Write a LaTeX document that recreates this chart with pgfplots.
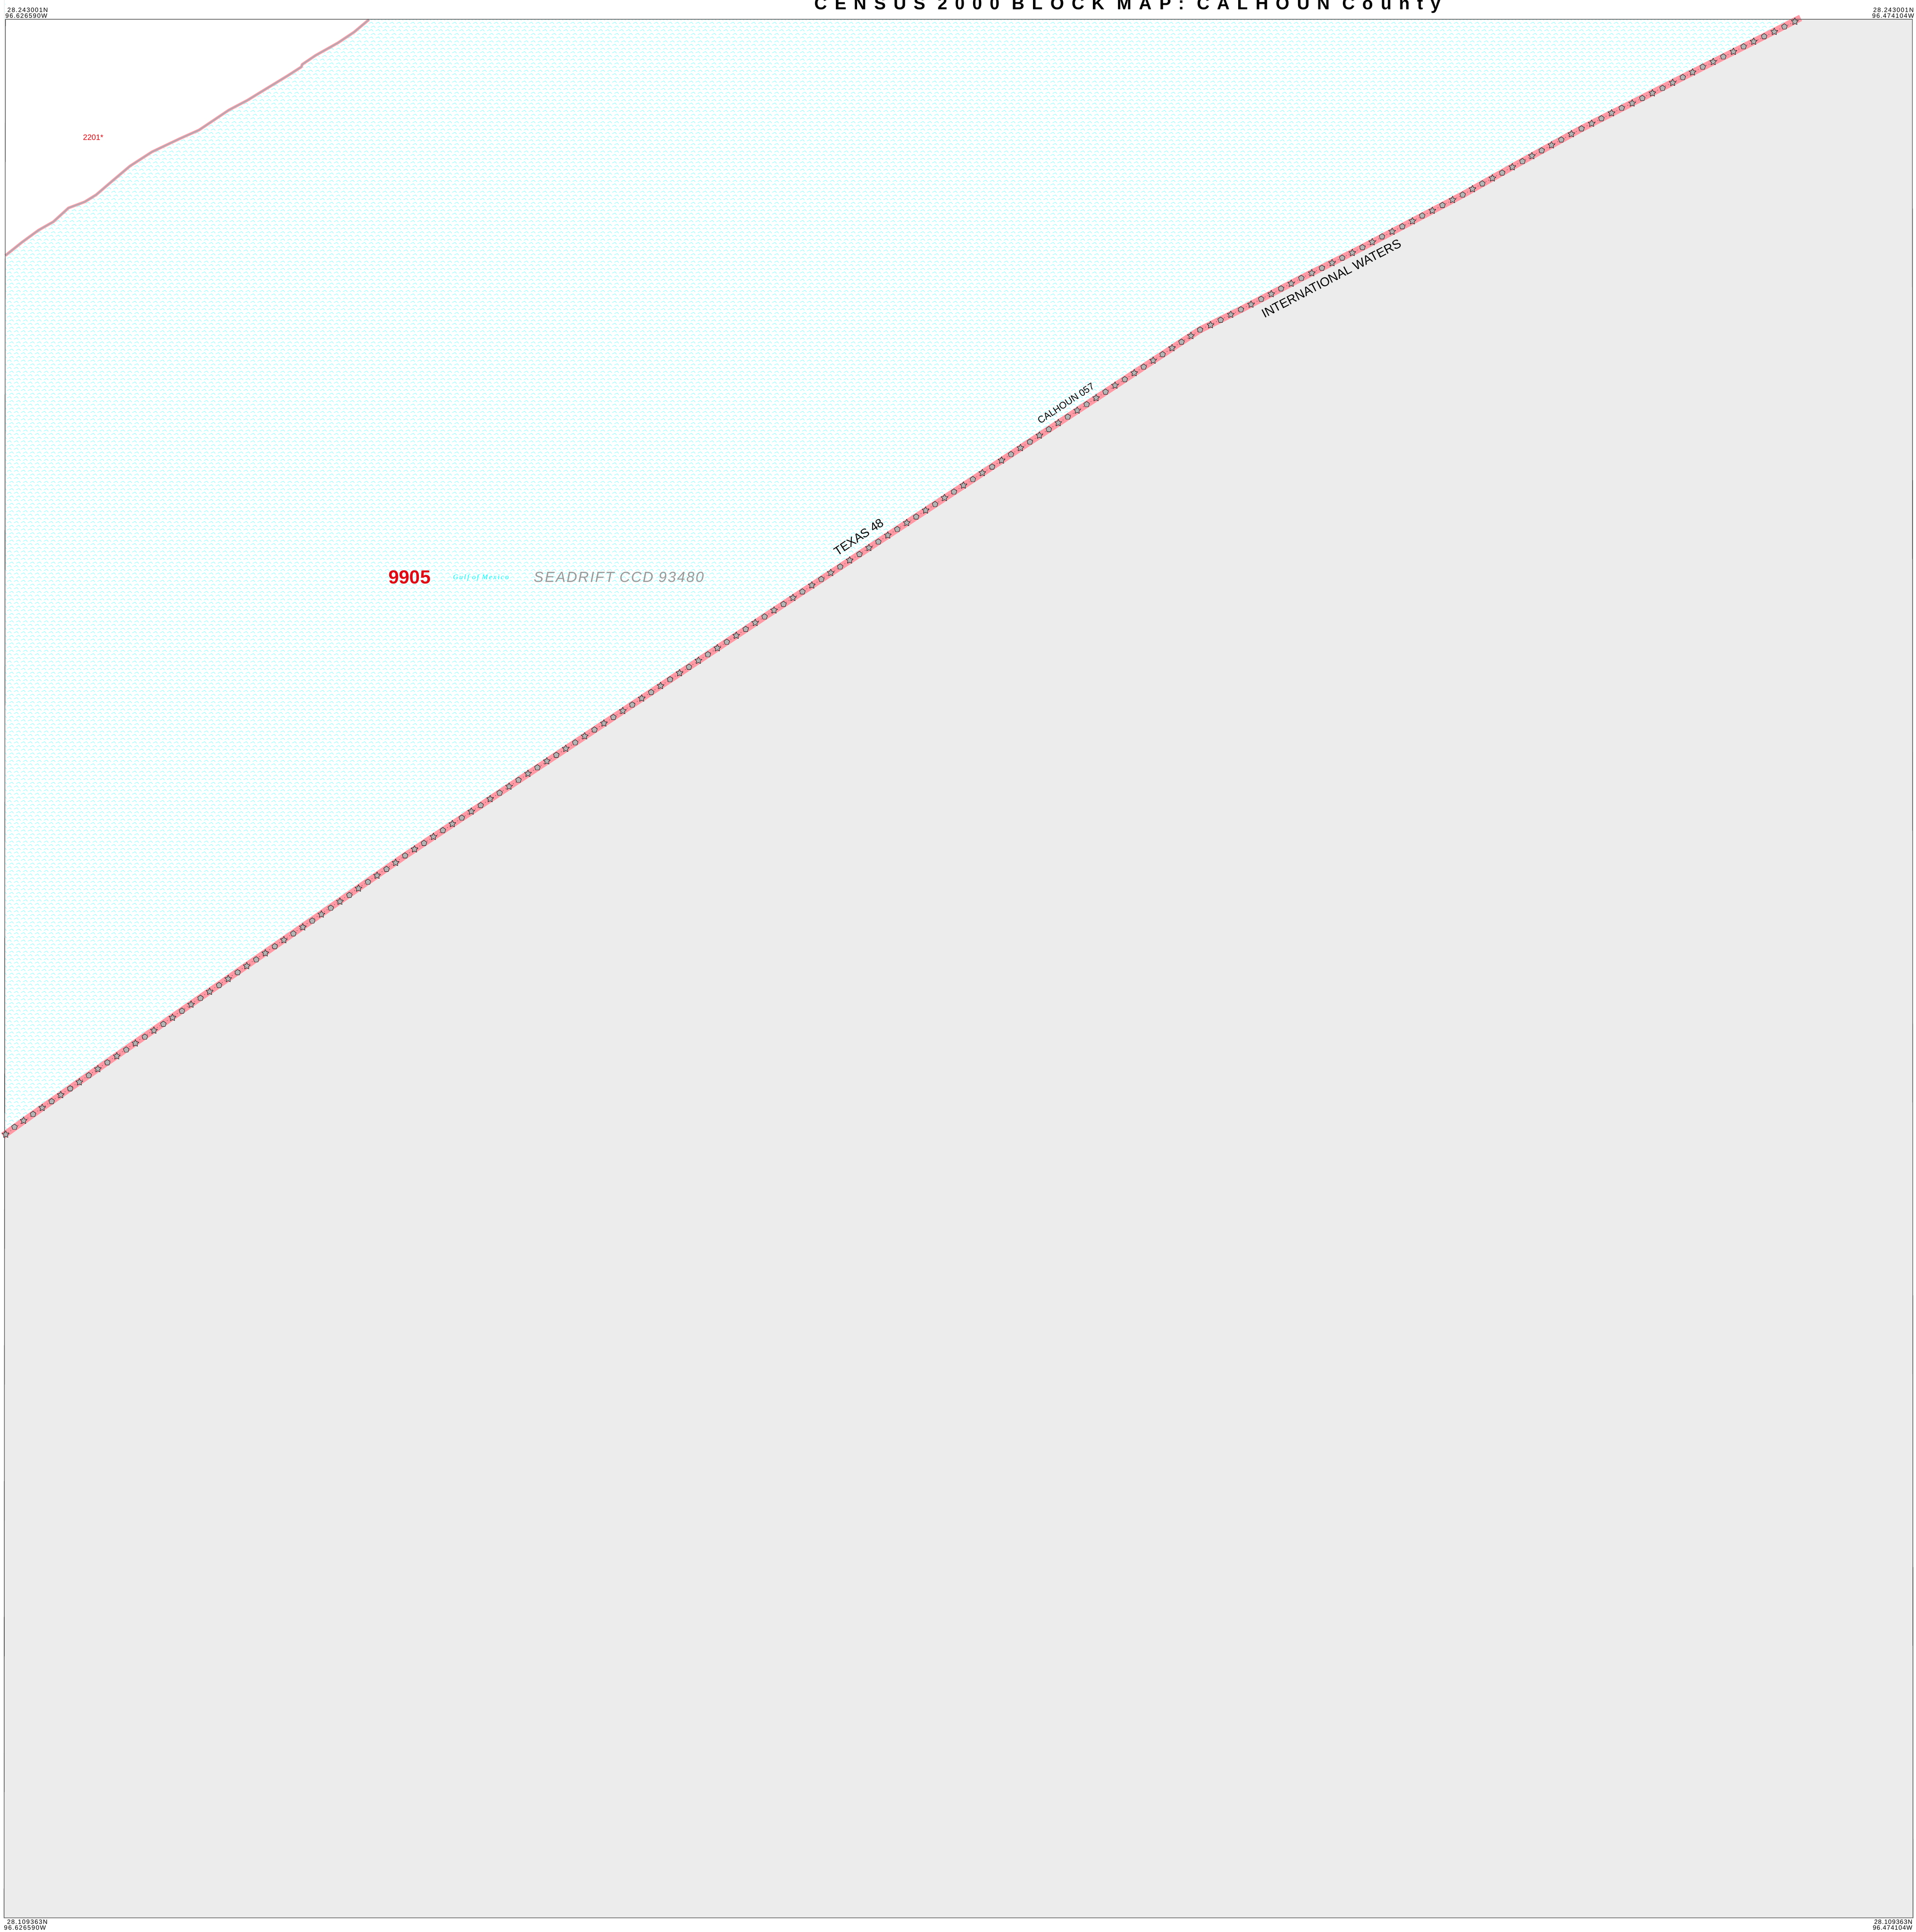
\documentclass[border=0pt]{standalone}
\usepackage{fontspec}
\usepackage{pgfplots}
\pgfplotsset{compat=1.18}
\usetikzlibrary{patterns,plotmarks}
\setmainfont{Liberation Sans}
\newfontfamily\serifface{Liberation Serif}
\definecolor{landgray}{HTML}{ECECEC}
\definecolor{bandpink}{HTML}{FF9AA5}
\definecolor{coastcore}{HTML}{9DB0B8}
\definecolor{markgray}{HTML}{B4B4B4}
\definecolor{redlabel}{HTML}{DF0A14}
\definecolor{framegray}{HTML}{4A4A4A}
\definecolor{ccdgray}{HTML}{999999}
\definecolor{wavecyan}{HTML}{88FFFF}
\definecolor{gulfcyan}{HTML}{00FFFF}
\pgfdeclarepatternformonly{gulfwave}{\pgfqpoint{0pt}{0pt}}{\pgfqpoint{5.25pt}{5.333pt}}{\pgfqpoint{5.25pt}{5.333pt}}{%
  \pgfsetlinewidth{0.3pt}%
  \pgfpathmoveto{\pgfqpoint{1.75pt}{3.3pt}}%
  \pgfpathlineto{\pgfqpoint{3.92pt}{4.3pt}}%
  \pgfpathlineto{\pgfqpoint{5.08pt}{3.05pt}}%
  \pgfpathmoveto{\pgfqpoint{0.08pt}{0.63pt}}%
  \pgfpathlineto{\pgfqpoint{2.25pt}{1.63pt}}%
  \pgfpathlineto{\pgfqpoint{3.41pt}{0.38pt}}%
  \pgfusepath{stroke}%
}
\pgfdeclareplotmark{fstar}{%
  \pgfpathmoveto{\pgfqpointpolar{90}{\pgfplotmarksize}}%
  \pgfpathlineto{\pgfqpointpolar{126}{0.5\pgfplotmarksize}}%
  \pgfpathlineto{\pgfqpointpolar{162}{\pgfplotmarksize}}%
  \pgfpathlineto{\pgfqpointpolar{198}{0.5\pgfplotmarksize}}%
  \pgfpathlineto{\pgfqpointpolar{234}{\pgfplotmarksize}}%
  \pgfpathlineto{\pgfqpointpolar{270}{0.5\pgfplotmarksize}}%
  \pgfpathlineto{\pgfqpointpolar{306}{\pgfplotmarksize}}%
  \pgfpathlineto{\pgfqpointpolar{342}{0.5\pgfplotmarksize}}%
  \pgfpathlineto{\pgfqpointpolar{18}{\pgfplotmarksize}}%
  \pgfpathlineto{\pgfqpointpolar{54}{0.5\pgfplotmarksize}}%
  \pgfpathclose
  \pgfusepathqfillstroke
}
\pgfplotstableread{
x y
43 3339
98 3301
153 3263
208 3225
263 3186
318 3148
374 3110
429 3072
484 3034
539 2995
594 2957
649 2919
704 2881
759 2843
814 2804
869 2766
925 2728
980 2690
1035 2652
1090 2613
1145 2575
1200 2535
1256 2498
1312 2460
1368 2423
1424 2386
1480 2349
1536 2311
1592 2274
1648 2237
1704 2200
1761 2162
1817 2125
1873 2088
1929 2051
1985 2013
2041 1976
2097 1939
2153 1902
2209 1864
2265 1827
2321 1790
2377 1753
2433 1716
2489 1679
2546 1642
2602 1605
2658 1568
2714 1531
2770 1494
2826 1457
2882 1420
2939 1383
2995 1346
3051 1309
3107 1272
3163 1235
3219 1198
3275 1161
3332 1124
3388 1087
3444 1050
3500 1013
3555 977
3616 948
3676 917
3736 886
3795 855
3855 824
3916 794
3976 764
4036 733
4094 701
4154 671
4213 639
4273 608
4333 577
4391 544
4450 512
4510 478
4567 446
4625 414
4685 381
4744 351
4804 320
4865 291
4925 261
4985 229
5044 198
5105 168
5165 138
5226 108
5286 79
}\pentagons
\pgfplotstableread{
x y
17 3361
70 3320
125 3282
180 3244
235 3206
290 3167
346 3129
401 3091
456 3053
511 3015
566 2976
621 2938
676 2900
731 2862
786 2824
841 2785
897 2747
952 2709
1007 2671
1062 2632
1117 2594
1172 2556
1228 2516
1284 2479
1340 2441
1396 2404
1452 2367
1508 2330
1564 2292
1620 2255
1676 2218
1732 2181
1789 2143
1845 2106
1901 2069
1957 2032
2013 1994
2069 1957
2125 1920
2181 1883
2237 1845
2293 1808
2349 1771
2405 1734
2461 1697
2517 1660
2574 1623
2630 1586
2686 1549
2742 1512
2798 1475
2854 1438
2910 1401
2967 1364
3023 1327
3079 1290
3135 1253
3191 1216
3247 1179
3303 1142
3360 1105
3416 1068
3472 1031
3528 995
3586 963
3646 932
3706 902
3766 871
3825 840
3886 809
3946 779
4006 749
4065 717
4124 686
4184 655
4243 624
4303 592
4362 560
4421 528
4480 495
4538 462
4596 430
4655 397
4715 366
4774 335
4835 306
4895 276
4955 245
5014 214
5075 183
5135 153
5195 123
5256 94
5317 64
}\stars
\begin{document}
\begin{tikzpicture}
\path[use as bounding box] (0,0) rectangle (1418.75pt,-1431pt);
\begin{axis}[
  at={(0,0)}, anchor=north west,
  x=0.25pt, y=0.25pt, y dir=reverse,
  xmin=0, xmax=5675, ymin=0, ymax=5724,
  hide axis, clip=false,
  /tikz/every node/.append style={inner sep=0pt, outer sep=0pt},
]
% land outside the county (gray)
\addplot[draw=none, fill=landgray] coordinates {
 (14,3361) (98,3301) (306,3155) (1200,2535) (2321,1790) (3500,1013) (3555,977)
 (3676,917) (3855,824) (4036,733) (4333,577) (4509,478) (4685,381) (4985,229)
 (5166,138) (5317,64) (5337,57) (5665,57) (5667,5682) (12,5682)} \closedcycle;
% gulf water
\addplot[draw=none, pattern=gulfwave, pattern color=wavecyan] coordinates {
 (16,757) (66,717) (114,682) (158,657) (203,616) (251,598) (285,577) (334,535)
 (385,492) (450,450) (532,411) (590,385) (678,326) (733,297) (777,270) (851,225)
 (893,198) (895,191) (935,164) (1001,127) (1049,95) (1097,57) (5337,57)
 (5317,64) (5166,138) (4985,229) (4685,381) (4509,478) (4333,577) (4036,733)
 (3855,824) (3676,917) (3555,977) (3500,1013) (2321,1790) (1200,2535) (306,3155)
 (98,3301) (15,3361)} \closedcycle;
% shoreline
\addplot[draw=bandpink, line width=2pt, line join=round] coordinates {
 (16,757) (66,717) (114,682) (158,657) (203,616) (251,598) (285,577) (334,535)
 (385,492) (450,450) (532,411) (590,385) (678,326) (733,297) (777,270) (851,225)
 (893,198) (895,191) (935,164) (1001,127) (1049,95) (1093,58)};
\addplot[draw=coastcore, line width=0.7pt, line join=round] coordinates {
 (16,757) (66,717) (114,682) (158,657) (203,616) (251,598) (285,577) (334,535)
 (385,492) (450,450) (532,411) (590,385) (678,326) (733,297) (777,270) (851,225)
 (893,198) (895,191) (935,164) (1001,127) (1049,95) (1093,58)};
% county boundary
\addplot[draw=bandpink, line width=5pt, line join=round] coordinates {
 (9,3365) (98,3301) (306,3155) (1200,2535) (2321,1790) (3500,1013) (3555,977)
 (3676,917) (3855,824) (4036,733) (4333,577) (4509,478) (4685,381) (4985,229)
 (5166,138) (5334,53)};
\addplot[draw=black, line width=0.25pt, dash pattern=on 0.35pt off 1.9pt] coordinates {
 (17,3361) (98,3301) (306,3155) (1200,2535) (2321,1790) (3500,1013) (3555,977)
 (3676,917) (3855,824) (4036,733) (4333,577) (4509,478) (4685,381) (4985,229)
 (5166,138) (5317,64)};
\addplot[only marks, mark=pentagon*, mark size=2.2pt,
  mark options={fill=markgray, draw=black, line width=0.24pt}] table[x=x,y=y] {\pentagons};
\addplot[only marks, mark=fstar, mark size=2.7pt,
  mark options={fill=markgray, draw=black, line width=0.24pt}] table[x=x,y=y] {\stars};
% frame
\addplot[draw=framegray, line width=0.45pt] coordinates {
 (16,57) (5665,57) (5667,5682) (12,5682) (16,57)};
% labels
\node[anchor=base west, font=\fontsize{13pt}{13pt}\bfseries\addfontfeature{LetterSpace=43}\selectfont] at (axis cs:2413,28) {CENSUS 2000 BLOCK MAP: CALHOUN County};
\node[anchor=base west, font=\fontsize{4.65pt}{4.65pt}\addfontfeature{LetterSpace=11}\selectfont] at (axis cs:22,36) {28.243001N};
\node[anchor=base west, font=\fontsize{4.65pt}{4.65pt}\addfontfeature{LetterSpace=11}\selectfont] at (axis cs:16,53) {96.626590W};
\node[anchor=base east, font=\fontsize{4.65pt}{4.65pt}\addfontfeature{LetterSpace=11}\selectfont] at (axis cs:5669,36) {28.243001N};
\node[anchor=base east, font=\fontsize{4.65pt}{4.65pt}\addfontfeature{LetterSpace=11}\selectfont] at (axis cs:5670,53) {96.474104W};
\node[anchor=base west, font=\fontsize{4.65pt}{4.65pt}\addfontfeature{LetterSpace=11}\selectfont] at (axis cs:21,5700) {28.109363N};
\node[anchor=base west, font=\fontsize{4.65pt}{4.65pt}\addfontfeature{LetterSpace=11}\selectfont] at (axis cs:12,5717) {96.626590W};
\node[anchor=base east, font=\fontsize{4.65pt}{4.65pt}\addfontfeature{LetterSpace=7}\selectfont] at (axis cs:5665,5700) {28.109363N};
\node[anchor=base east, font=\fontsize{4.65pt}{4.65pt}\addfontfeature{LetterSpace=7}\selectfont] at (axis cs:5665,5717) {96.474104W};
\node[anchor=base west, text=redlabel, font=\fontsize{14pt}{14pt}\bfseries\selectfont] at (axis cs:1151,1729) {9905};
\node[anchor=base west, text=gulfcyan, font=\serifface\itshape\fontsize{5.25pt}{5.25pt}\addfontfeature{LetterSpace=17}\selectfont] at (axis cs:1342,1716) {Gulf of Mexico};
\node[anchor=base west, text=ccdgray, font=\fontsize{10.8pt}{10.8pt}\itshape\addfontfeature{LetterSpace=8}\selectfont] at (axis cs:1582,1725) {SEADRIFT CCD 93480};
\node[anchor=base west, text=redlabel, font=\fontsize{5.75pt}{5.75pt}\selectfont] at (axis cs:246,415) {2201*};
\node[anchor=center, rotate=27.5, font=\fontsize{9.3pt}{9.3pt}\selectfont] at (axis cs:3944,825) {INTERNATIONAL WATERS};
\node[anchor=center, rotate=33.5, font=\fontsize{9pt}{9pt}\selectfont] at (axis cs:2544,1591) {TEXAS 48};
\node[anchor=center, rotate=33.5, font=\fontsize{7.1pt}{7.1pt}\selectfont] at (axis cs:3158,1195) {CALHOUN 057};
\end{axis}
\end{tikzpicture}
\end{document}
